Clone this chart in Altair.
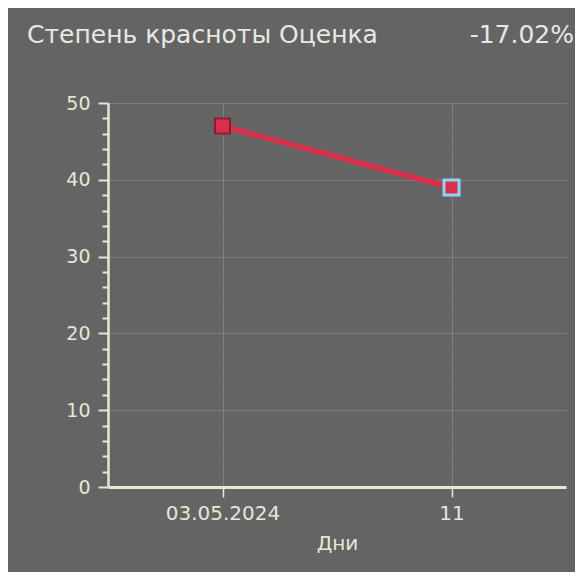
import altair as alt
import pandas as pd

# ---- data ----
days = ["03.05.2024", "11"]
scores = [47, 39]
y_tick_values = list(range(0, 51, 2))
title_text = "Степень красноты Оценка"
x_title = "Дни"

change = (scores[-1] - scores[0]) / scores[0] * 100
change_label = f"{change:.2f}%"

df = pd.DataFrame({"day": days, "score": scores})
ann_title = pd.DataFrame({"t": [title_text]})
ann_change = pd.DataFrame({"t": [change_label]})

W, H = 458, 384
BG = "#646464"
CREAM = "#e9e6d6"
RED = "#d8304a"
FONT = "DejaVu Sans"

x = alt.X(
    "day:N", sort=days, title=x_title,
    scale=alt.Scale(type="point", padding=0.5),
    axis=alt.Axis(
        labelAngle=0, labelFontSize=20, titleFontSize=20,
        tickSize=10, tickWidth=1.5, tickColor=CREAM,
        labelColor=CREAM, titleColor=CREAM, titleFontWeight="normal",
        domainColor=CREAM, domainWidth=3,
        grid=True, gridColor="#808080", gridWidth=1,
        labelPadding=6, titlePadding=10,
    ),
)
y = alt.Y(
    "score:Q", title=None,
    scale=alt.Scale(domain=[0, 50], nice=False),
    axis=alt.Axis(
        values=y_tick_values,
        labelExpr="datum.value % 10 === 0 ? datum.label : ''",
        labelFontSize=19, labelColor=CREAM, labelPadding=8,
        tickColor=CREAM, tickWidth=2,
        tickSize={"condition": {"test": "datum.value % 10 === 0", "value": 10}, "value": 6},
        domainColor=CREAM, domainWidth=2.5,
        grid=True,
        gridColor={"condition": {"test": "datum.value % 10 === 0", "value": "#7e7e7e"}, "value": "#686868"},
        gridWidth=1,
    ),
)

base = alt.Chart(df)
line = base.mark_line(color=RED, strokeWidth=5.5).encode(x=x, y=y)
is_last = f"datum.day === '{days[-1]}'"
points = base.mark_square(size=225, filled=True, color=RED, opacity=1).encode(
    x=x, y=y,
    stroke=alt.condition(is_last, alt.value("#8fd3f4"), alt.value("#8e1c2c")),
    strokeWidth=alt.condition(is_last, alt.value(3), alt.value(2)),
)

title_mark = alt.Chart(ann_title).mark_text(
    align="left", baseline="alphabetic", fontSize=25, font=FONT, color="#e8e8e2"
).encode(text="t:N", x=alt.value(-81), y=alt.value(-60))
change_mark = alt.Chart(ann_change).mark_text(
    align="right", baseline="alphabetic", fontSize=25, font=FONT, color="#e8e8e2"
).encode(text="t:N", x=alt.value(466), y=alt.value(-60))

chart = alt.layer(line, points, title_mark, change_mark).properties(
    width=W, height=H,
    autosize=alt.AutoSizeParams(type="none"),
    padding={"left": 100, "top": 95, "right": 9, "bottom": 85},
    background=BG,
).configure_view(stroke=None).configure_axis(labelFont=FONT, titleFont=FONT)

chart.save("out.html", embed_options={"renderer": "svg", "actions": False})
